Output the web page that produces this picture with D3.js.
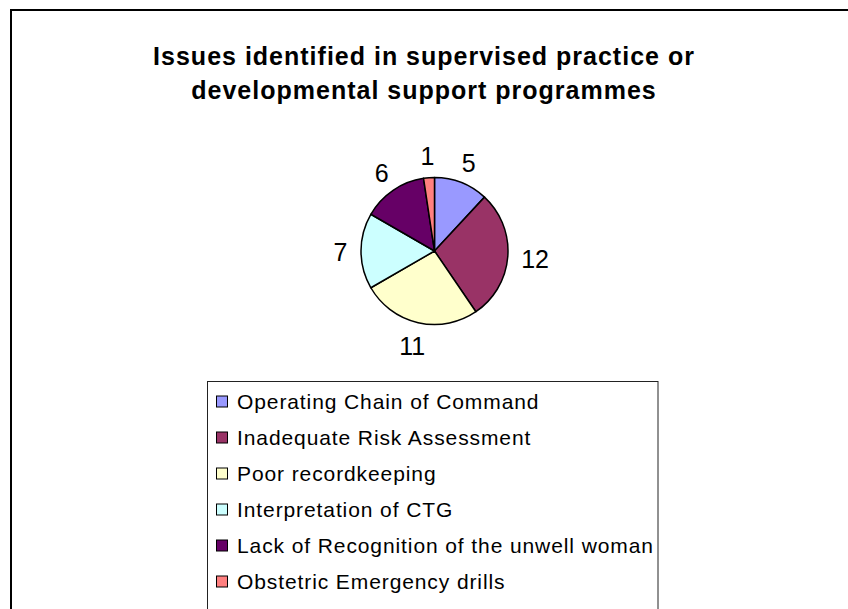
<!DOCTYPE html>
<html>
<head>
<meta charset="utf-8">
<script src="https://cdn.jsdelivr.net/npm/d3@7"></script>
<style>
  html, body { margin: 0; padding: 0; background: #fff; }
  svg { display: block; font-family: "Liberation Sans", Arial, sans-serif; }
</style>
</head>
<body>
<div class="canvas"></div>
<script>
/////////////////////////////////////////////////
// Data
/////////////////////////////////////////////////

const titleLines = [
  "Issues identified in supervised practice or",
  "developmental support programmes",
];
const categories = [
  "Operating Chain of Command",
  "Inadequate Risk Assessment",
  "Poor recordkeeping",
  "Interpretation of CTG",
  "Lack of Recognition of the unwell woman",
  "Obstetric Emergency drills",
];
const values = [5, 12, 11, 7, 6, 1];
const colors = ["#9999FF", "#993366", "#FFFFCC", "#CCFFFF", "#660066", "#FF8080"];

/////////////////////////////////////////////////
// Setup
/////////////////////////////////////////////////

const width = 848;
const height = 609;

const cx = 434.5;
const cy = 251;
const radius = 73.5;
const labelRadius = 87;

const svg = d3
  .select(".canvas")
  .append("svg")
  .attr("width", width)
  .attr("height", height);

// Chart area border (runs off the right and bottom edge)
svg
  .append("rect")
  .attr("x", 11)
  .attr("y", 10)
  .attr("width", width)
  .attr("height", height)
  .attr("fill", "#fff")
  .attr("stroke", "#000")
  .attr("stroke-width", 2);

// Title
svg
  .append("g")
  .selectAll("text")
  .data(titleLines)
  .enter()
  .append("text")
  .attr("x", 424)
  .attr("y", (d, i) => 65 + i * 34)
  .attr("text-anchor", "middle")
  .attr("font-size", 25)
  .attr("font-weight", "bold")
  .attr("letter-spacing", 1)
  .text((d) => d);

/////////////////////////////////////////////////
// Pie
/////////////////////////////////////////////////

const color = d3.scaleOrdinal(categories, colors);

const pie = d3
  .pie()
  .sort(null)
  .value((d) => d.value);

const slices = pie(categories.map((c, i) => ({ name: c, value: values[i] })));

const arc = d3.arc().innerRadius(0).outerRadius(radius);

const graph = svg.append("g").attr("transform", `translate(${cx}, ${cy})`);

graph
  .selectAll("path")
  .data(slices)
  .enter()
  .append("path")
  .attr("d", arc)
  .attr("fill", (d) => color(d.data.name))
  .attr("stroke", "#000")
  .attr("stroke-width", 1.5)
  .attr("stroke-linejoin", "round");

// Value labels sit outside the pie, pushed out by half their box
const labels = graph
  .selectAll(".label")
  .data(slices)
  .enter()
  .append("text")
  .attr("class", "label")
  .attr("font-size", 25)
  .attr("text-anchor", "middle")
  .text((d) => d.data.value);

labels.each(function (d) {
  const mid = (d.startAngle + d.endAngle) / 2;
  const ux = Math.sin(mid);
  const uy = -Math.cos(mid);
  const w = this.getComputedTextLength();
  const h = 18;
  const x = ux * labelRadius + (ux * w) / 2;
  const y = uy * labelRadius + (uy * h) / 2;
  d3.select(this).attr("x", x).attr("y", y + h / 2 + 1);
});

/////////////////////////////////////////////////
// Legend
/////////////////////////////////////////////////

const legendGroup = svg.append("g");

legendGroup
  .append("rect")
  .attr("x", 207.5)
  .attr("y", 381.5)
  .attr("width", 450.5)
  .attr("height", 300)
  .attr("fill", "#fff")
  .attr("stroke", "#222")
  .attr("stroke-width", 1);

const legendNodes = legendGroup
  .selectAll(".legend-item")
  .data(categories)
  .enter()
  .append("g")
  .attr("class", "legend-item")
  .attr("transform", (d, i) => `translate(216, ${401.5 + i * 36})`);

legendNodes
  .append("rect")
  .attr("x", 0.5)
  .attr("y", -5.5)
  .attr("width", 11)
  .attr("height", 11)
  .attr("fill", (d) => color(d))
  .attr("stroke", "#000")
  .attr("stroke-width", 1);

legendNodes
  .append("text")
  .attr("x", 21)
  .attr("y", 7.5)
  .attr("font-size", 21)
  .attr("letter-spacing", 0.9)
  .text((d) => d);
</script>
</body>
</html>
